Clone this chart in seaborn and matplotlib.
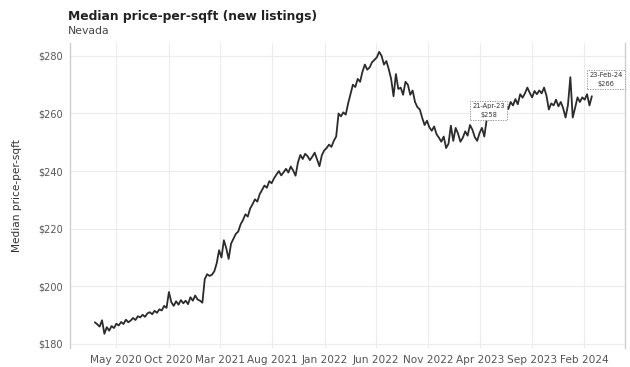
import numpy as np
import pandas as pd
import matplotlib
matplotlib.use("Agg")
import matplotlib.pyplot as plt
import matplotlib.dates as mdates
import seaborn as sns

start_date = "2020-02-28"
price = [
    187.5, 186.8, 186.0, 188.2, 183.5, 185.8, 184.6, 186.2, 185.5, 187.0,
    186.4, 187.6, 186.9, 188.4, 187.5, 188.1, 189.0, 188.3, 189.6, 189.2,
    190.1, 189.4, 190.6, 191.0, 190.3, 191.5, 190.8, 192.0, 191.6, 193.2,
    192.5, 198.0, 194.5, 193.2, 194.8, 193.6, 195.2, 194.1, 195.0, 193.8,
    196.2, 195.0, 196.8, 195.4, 195.0, 194.3, 202.5, 204.2, 203.6, 204.0,
    205.2, 208.0, 212.5, 210.0, 216.0, 213.2, 209.5, 214.8, 216.5, 218.2,
    219.0, 221.5, 223.0, 225.0, 224.2, 227.0, 228.5, 230.2, 229.4, 232.0,
    233.5, 235.0, 234.2, 236.5, 235.8, 237.5, 238.8, 240.0, 238.5, 239.6,
    240.8, 239.5, 241.6, 240.2, 238.4, 243.0, 245.6, 244.2, 246.0, 245.2,
    243.8, 245.0, 246.4, 244.0, 241.7, 245.5, 247.2, 248.0, 249.2, 248.4,
    250.5, 252.0, 260.0, 259.0, 260.4, 259.6, 263.5, 266.8, 270.0, 269.2,
    272.0, 271.0, 274.5, 277.0, 275.2, 276.0, 277.8, 278.6, 279.5, 281.4,
    280.0, 277.0, 278.2, 275.4, 272.0, 266.0, 273.7, 268.5, 269.0, 266.5,
    271.0, 270.0, 266.5, 268.0, 264.0, 262.2, 261.4, 258.5, 256.0, 257.5,
    255.2, 254.0, 255.5, 252.8, 251.6, 250.2, 252.0, 248.0, 249.5, 255.8,
    250.5, 255.0, 253.0, 250.2, 251.6, 253.8, 252.3, 256.0, 254.4, 251.8,
    250.5, 253.2, 255.0, 252.0, 258.0, 259.6, 257.8, 260.5, 259.2, 261.0,
    260.2, 262.0, 262.8, 261.5, 264.0, 262.8, 265.0, 263.2, 266.7, 265.5,
    267.0, 269.0, 267.2, 265.6, 267.8, 266.7, 268.0, 267.0, 269.0, 266.2,
    261.4, 263.5, 262.8, 264.8, 262.5, 264.0, 261.8, 258.6, 263.0, 272.6,
    258.6, 262.0, 265.6, 264.0, 265.6, 264.8, 266.7, 262.8, 266.0,
]
tick_dates = ["2020-05-01", "2020-10-01", "2021-03-01", "2021-08-01", "2022-01-01",
              "2022-06-01", "2022-11-01", "2023-04-01", "2023-09-01", "2024-02-01"]
tick_labels = ["May 2020", "Oct 2020", "Mar 2021", "Aug 2021", "Jan 2022",
               "Jun 2022", "Nov 2022", "Apr 2023", "Sep 2023", "Feb 2024"]
y_ticks = [180, 200, 220, 240, 260, 280]
notes = [(164, "21-Apr-23", "$258", (2, 9)), (208, "23-Feb-24", "$266", (14, 17))]

dates = pd.date_range(start_date, periods=len(price), freq="7D")
df = pd.DataFrame({"date": dates, "price": price})

sns.set_theme(style="white")
plt.rcParams["font.family"] = ["DejaVu Sans"]

fig = plt.figure(figsize=(6.3, 3.67), dpi=100)
ax = fig.add_axes([0.111, 0.052, 0.881, 0.831])
sns.lineplot(data=df, x="date", y="price", ax=ax, color="#2b2b2b", linewidth=1.3)

ax.set_xlim(pd.Timestamp("2019-12-17"), pd.Timestamp("2024-05-30"))
ax.set_ylim(178.6, 284.5)
ax.set_xticks(pd.to_datetime(tick_dates))
ax.set_xticklabels(tick_labels)
ax.set_yticks(y_ticks)
ax.set_yticklabels([f"${v}" for v in y_ticks])
ax.tick_params(axis="x", labelsize=7.6, colors="#555555", length=0, pad=5)
ax.tick_params(axis="y", labelsize=7.0, colors="#555555", length=0, pad=5)
ax.grid(True, color="#ececec", linewidth=0.8)
for s in ["top", "bottom"]:
    ax.spines[s].set_visible(False)
for s in ["left", "right"]:
    ax.spines[s].set_color("#cfcfcf")
    ax.spines[s].set_linewidth(1.0)
ax.set_xlabel("")
ax.set_ylabel("Median price-per-sqft", fontsize=7.6, color="#333333", labelpad=12)

fig.text(0.108, 0.955, "Median price-per-sqft (new listings)", fontsize=8.9,
         fontweight="bold", color="#222222", va="center")
fig.text(0.108, 0.915, "Nevada", fontsize=7.8, color="#444444", va="center")

for idx, dlabel, vlabel, off in notes:
    ax.annotate(f"{dlabel}\n{vlabel}", xy=(df["date"][idx], df["price"][idx]),
                xytext=off, textcoords="offset pixels", fontsize=4.8,
                color="#333333", ha="center", va="center", linespacing=1.6,
                bbox=dict(boxstyle="square,pad=0.3", fc="white", ec="#888888",
                          ls=(0, (1.5, 1.5)), lw=0.6))

fig.savefig("out.png", dpi=100)
